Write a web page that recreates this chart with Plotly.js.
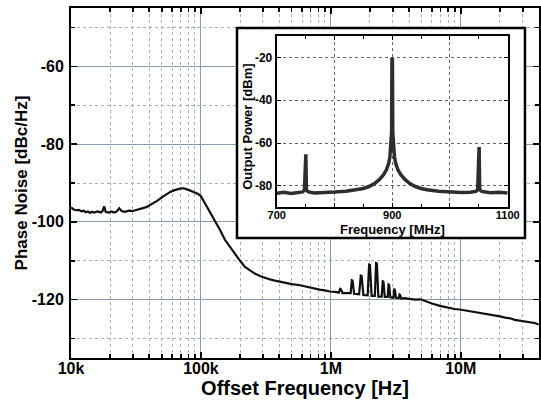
<!DOCTYPE html>
<html>
<head>
<meta charset="utf-8">
<script src="https://cdn.plot.ly/plotly-3.0.1.min.js"></script>
<style>html,body{margin:0;padding:0;background:#fff}#chart{width:541px;height:403px}</style>
</head>
<body>
<div id="chart"></div>
<script>
// Main plot: phase noise vs offset frequency
const offsetHz = [10000,10500,11000,11500,12000,12500,13000,13500,14000,14500,15000,16000,17000,17500,18000,18500,19500,20500,21500,22500,23500,24500,26000,28000,30000,32000,34000,36000,38000,40000,43000,46000,50000,54000,58000,62000,66000,70000,74000,78000,82000,86000,90000,95000,100000,107000,115000,128000,140000,153000,168000,183000,200000,218000,240000,260000,285000,310000,340000,371000,410000,443000,500000,578000,650000,731000,820000,900000,980000,1080000,1150000,1180000,1195000,1230000,1330000,1420000,1450000,1470000,1510000,1650000,1700000,1725000,1780000,1920000,1970000,2000000,2060000,2180000,2230000,2260000,2320000,2460000,2510000,2540000,2600000,2740000,2780000,2810000,2870000,3030000,3080000,3110000,3170000,3330000,3380000,3410000,3480000,3700000,4000000,4500000,4900000,5500000,6000000,6900000,8000000,9000000,10100000,12000000,14000000,17000000,20000000,22000000,24000000,26000000,28400000,31000000,34000000,37000000,39800000];
const phaseNoise = [-96.3,-96.8,-97.0,-96.9,-97.3,-97.1,-97.5,-97.3,-97.7,-97.4,-97.6,-97.3,-97.6,-97.2,-96.0,-97.4,-97.6,-97.3,-97.6,-97.3,-96.5,-97.2,-97.4,-97.1,-97.2,-96.9,-96.8,-96.4,-96.2,-95.8,-95.2,-94.6,-93.7,-92.9,-92.3,-91.9,-91.6,-91.4,-91.4,-91.6,-91.9,-92.2,-92.5,-92.8,-93.4,-95.1,-97.0,-99.4,-102.0,-104.6,-106.6,-108.4,-110.0,-111.6,-112.6,-113.3,-113.9,-114.4,-114.8,-115.1,-115.4,-115.7,-116.0,-116.3,-116.7,-117.0,-117.4,-117.6,-117.9,-118.0,-118.2,-117.2,-117.3,-118.3,-118.4,-118.3,-115.0,-115.1,-118.5,-118.6,-113.8,-113.9,-118.8,-118.9,-111.0,-111.1,-119.0,-119.0,-110.6,-110.7,-119.2,-119.2,-115.3,-115.4,-119.3,-119.3,-116.1,-116.2,-119.4,-119.5,-117.4,-117.5,-119.5,-119.6,-118.7,-118.8,-119.7,-119.6,-119.8,-120.0,-119.9,-120.6,-121.0,-121.6,-122.1,-122.4,-122.6,-123.0,-123.3,-123.8,-124.3,-124.6,-124.8,-125.2,-125.4,-125.6,-125.8,-126.0,-126.4];
const mainXTicks = [1e4, 1e5, 1e6, 1e7];
const mainXLabels = ['10k', '100k', '1M', '10M'];
const mainYTicks = [-60, -80, -100, -120];

// Inset: output spectrum
const freqMHz = [700,712,725,738,745,748,749,750.5,751.5,755,765,780,800,820,840,850,860,870,878,885,890,894,896,898,899,899.6,900.4,901,902,904,906,910,915,922,930,940,950,960,980,1000,1020,1035,1045,1048,1049,1050.5,1051.5,1055,1070,1085,1100];
const powerDBm = [-83.4,-83.0,-83.5,-83.1,-82.8,-82.0,-65.3,-65.3,-82.0,-82.8,-83.3,-83.2,-82.9,-82.5,-81.8,-81.2,-80.3,-78.8,-77.0,-74.8,-72.5,-69.5,-66.5,-61.0,-55.0,-21.0,-21.0,-55.0,-61.0,-66.5,-69.5,-72.5,-74.8,-77.0,-78.8,-80.3,-81.2,-81.8,-82.5,-82.9,-83.1,-83.0,-82.6,-81.8,-61.9,-61.9,-81.8,-82.6,-83.2,-83.0,-83.3];
const insetXTicks = [700, 800, 900, 1000, 1100];
const insetXLabels = ['700', '', '900', '', '1100'];
const insetYTicks = [-20, -40, -60, -80];

const FONT = 'Liberation Sans, Arial, Helvetica, sans-serif';
const majorGrid = '#869cb0';
const minorGrid = '#a6b0b8';
const xRange = [4, Math.log10(40e6)];
const yRange = [-135, -45];
const b = s => s ? '<b>' + s + '</b>' : '';

// inset frame, as fractions of the main plot area
const box = {x0: 0.3547, x1: 0.970, y0: 0.343, y1: 0.943};
const fx = f => Math.pow(10, xRange[0] + f * (xRange[1] - xRange[0]));
const fy = f => yRange[0] + f * (yRange[1] - yRange[0]);

const traces = [
  {x: offsetHz, y: phaseNoise, xaxis: 'x', yaxis: 'y', type: 'scatter', mode: 'lines',
   line: {color: '#111', width: 2.2}, hoverinfo: 'skip'},
  {x: freqMHz, y: powerDBm, xaxis: 'x2', yaxis: 'y2', type: 'scatter', mode: 'lines',
   line: {color: '#2e2e2e', width: 3.5}, hoverinfo: 'skip'}
];

const layout = {
  width: 541, height: 403,
  margin: {l: 71, r: 2, t: 8, b: 45},
  paper_bgcolor: '#fff', plot_bgcolor: '#fff',
  showlegend: false,
  font: {family: FONT, color: '#000'},
  xaxis: {
    type: 'log', range: xRange,
    tickvals: mainXTicks, ticktext: mainXLabels.map(b),
    ticks: 'inside', ticklen: 6, tickwidth: 1.5, tickcolor: '#000',
    showline: true, linewidth: 2, linecolor: '#000', mirror: 'ticks',
    showgrid: true, gridcolor: majorGrid, gridwidth: 1, zeroline: false,
    minor: {dtick: 'D1', ticks: 'inside', ticklen: 4, tickcolor: '#000', showgrid: true, gridcolor: minorGrid, griddash: 'dot', gridwidth: 1},
    tickfont: {size: 16, family: FONT},
    ticklabelstandoff: -5,
    title: {text: '<b>Offset Frequency [Hz]</b>', font: {size: 20, family: FONT}, standoff: 0}
  },
  yaxis: {
    range: yRange,
    tickvals: mainYTicks, ticktext: mainYTicks.map(v => b(String(v))),
    ticks: 'inside', ticklen: 6, tickwidth: 1.5, tickcolor: '#000',
    showline: true, linewidth: 2, linecolor: '#000', mirror: 'ticks',
    showgrid: true, gridcolor: majorGrid, gridwidth: 1, zeroline: false,
    minor: {dtick: 10, ticks: 'inside', ticklen: 4, tickcolor: '#000', showgrid: true, gridcolor: minorGrid, griddash: 'dot', gridwidth: 1},
    tickfont: {size: 16, family: FONT},
    ticklabelstandoff: 2,
    title: {text: '<b>Phase Noise [dBc/Hz]</b>', font: {size: 17, family: FONT}, standoff: 0}
  },
  xaxis2: {
    anchor: 'y2', domain: [0.4395, 0.9331], range: [700, 1100],
    tickvals: insetXTicks, ticktext: insetXLabels.map(b),
    ticks: 'inside', ticklen: 4, tickcolor: '#000',
    showline: true, linewidth: 2, linecolor: '#000', mirror: 'ticks',
    showgrid: true, gridcolor: '#666', griddash: 'dot', gridwidth: 1, zeroline: false,
    minor: {dtick: 50, ticks: 'inside', ticklen: 3, tickcolor: '#000'},
    tickfont: {size: 11, family: FONT},
    ticklabelstandoff: -3
  },
  yaxis2: {
    anchor: 'x2', domain: [0.4306, 0.92], range: [-90, -10],
    tickvals: insetYTicks, ticktext: insetYTicks.map(v => b(String(v))),
    ticks: 'inside', ticklen: 4, tickcolor: '#000',
    showline: true, linewidth: 2, linecolor: '#000', mirror: 'ticks',
    showgrid: true, gridcolor: '#666', griddash: 'dot', gridwidth: 1, zeroline: false,
    tickfont: {size: 12, family: FONT}
  },
  annotations: [
    {text: '<b>Frequency [MHz]</b>', xref: 'x2 domain', yref: 'y2 domain', x: 0.5, y: -0.13,
     xanchor: 'center', yanchor: 'middle', showarrow: false, font: {size: 13, family: FONT}},
    {text: '<b>Output Power [dBm]</b>', xref: 'x2 domain', yref: 'y2 domain', x: -0.124, y: 0.47,
     xanchor: 'center', yanchor: 'middle', textangle: -90, showarrow: false, font: {size: 13, family: FONT}}
  ],
  shapes: [
    {type: 'rect', xref: 'x', yref: 'y', x0: fx(box.x0), x1: fx(box.x1), y0: fy(box.y0), y1: fy(box.y1),
     layer: 'between', fillcolor: '#fff', line: {color: '#000', width: 2.5}}
  ]
};

Plotly.newPlot('chart', traces, layout, {staticPlot: true, displayModeBar: false});
</script>
</body>
</html>
